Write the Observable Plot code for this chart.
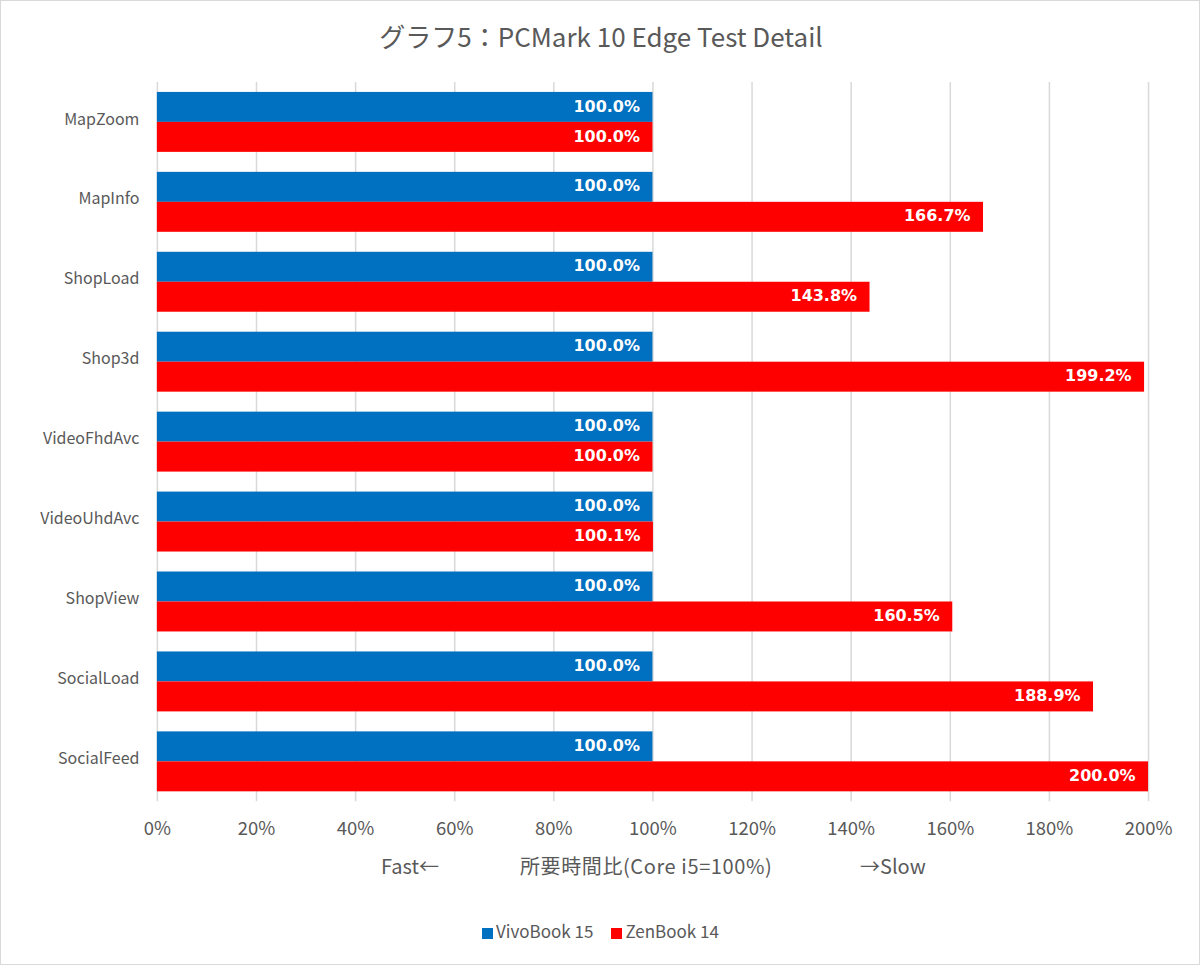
<!DOCTYPE html>
<html><head><meta charset="utf-8">
<script src="https://cdn.jsdelivr.net/npm/d3@7"></script>
<script src="https://cdn.jsdelivr.net/npm/@observablehq/plot@0.6"></script>
<style>
html,body{margin:0;padding:0;background:#fff;}
#wrap{position:relative;width:1198px;height:963px;border:1px solid #d9d9d9;overflow:hidden;font-family:"Noto Sans CJK JP","Noto Sans",sans-serif;color:#595959;}
#chart{position:absolute;left:-1px;top:-1px;}
.abs{position:absolute;white-space:nowrap;}
#title{left:0;width:1200px;top:17px;text-align:center;font-size:26px;line-height:36px;}
.xl{top:851px;font-size:20px;line-height:28px;}
#legend{top:918px;font-size:17px;line-height:24px;}
.sw{display:inline-block;width:11px;height:11px;vertical-align:-1px;margin-right:3px;}
</style></head>
<body><div id="wrap">
<div id="chart"></div>
<div id="title" class="abs">グラフ5：PCMark 10 Edge Test Detail</div>
<div class="abs xl" style="left:380px">Fast←</div>
<div class="abs xl" style="left:519px;letter-spacing:0.6px">所要時間比(Core i5=100%)</div>
<div class="abs xl" style="left:859px">→Slow</div>
<div id="legend" class="abs" style="left:481px"></div>
</div>
<script>
const categories = ["MapZoom","MapInfo","ShopLoad","Shop3d","VideoFhdAvc","VideoUhdAvc","ShopView","SocialLoad","SocialFeed"];
const seriesNames = ["VivoBook 15","ZenBook 14"];
const seriesColors = ["#0070C0","#FF0000"];
const vivoBook = [100.0,100.0,100.0,100.0,100.0,100.0,100.0,100.0,100.0];
const zenBook = [100.0,166.7,143.8,199.2,100.0,100.1,160.5,188.9,200.0];
const xTicks = [0,20,40,60,80,100,120,140,160,180,200];

const rows = [];
categories.forEach((c,i)=>{
  rows.push({cat:c, s:seriesNames[0], v:vivoBook[i]/100});
  rows.push({cat:c, s:seriesNames[1], v:zenBook[i]/100});
});
const blue = rows.filter(d=>d.s===seriesNames[0]);
const red = rows.filter(d=>d.s===seriesNames[1]);
const fmt = d=>(d.v*100).toFixed(1)+"%";
const lblFont = '"DejaVu Sans","Noto Sans",sans-serif';

const plot = Plot.plot({
  width:1200, height:850,
  marginLeft:157, marginRight:51, marginTop:82, marginBottom:48,
  style:{fontFamily:'"Noto Sans CJK JP","Noto Sans",sans-serif', color:"#595959", background:"transparent"},
  x:{domain:[0,2], ticks:xTicks.map(t=>t/100), tickFormat:d=>Math.round(d*100)+"%"},
  y:{domain:categories, paddingInner:0.25, paddingOuter:0.125, label:null},
  color:{domain:seriesNames, range:seriesColors},
  marks:[
    Plot.gridX(xTicks.map(t=>t/100), {stroke:"#d9d9d9", strokeOpacity:1, strokeWidth:1.5}),
    Plot.axisX({ticks:xTicks.map(t=>t/100), tickFormat:d=>Math.round(d*100)+"%", tickSize:0, tickPadding:20, fontSize:18.5, label:null, fill:"#595959"}),
    Plot.axisY({tickSize:0, tickPadding:18, fontSize:16, dy:-3, label:null, fill:"#595959"}),
    Plot.barX(blue, {x:"v", y:"cat", fill:"s", insetBottom:30}),
    Plot.barX(red, {x:"v", y:"cat", fill:"s", insetTop:30}),
    Plot.text(blue, {x:"v", y:"cat", text:fmt, dy:-16, dx:-13, textAnchor:"end", fill:"white", fontWeight:"bold", fontSize:16, fontFamily:lblFont}),
    Plot.text(red, {x:"v", y:"cat", text:fmt, dy:14, dx:-13, textAnchor:"end", fill:"white", fontWeight:"bold", fontSize:16, fontFamily:lblFont})
  ]
});
document.getElementById("chart").appendChild(plot);

const lg = document.getElementById("legend");
seriesNames.forEach((n,i)=>{
  const s = document.createElement("span");
  s.style.marginRight = i===0 ? "18px" : "0";
  s.innerHTML = `<span class="sw" style="background:${seriesColors[i]}"></span>${n}`;
  lg.appendChild(s);
});
</script>
</body></html>
